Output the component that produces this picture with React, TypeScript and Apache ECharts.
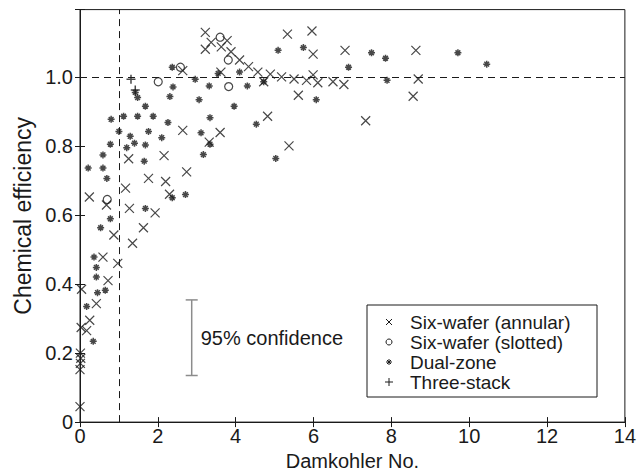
import React, { useEffect, useRef } from "react";
import * as echarts from "echarts";

// ---- data ----
const sixWaferAnnular: number[][] = [
  [3.22, 1.129], [3.37, 1.1], [3.78, 1.105], [3.22, 1.08], [3.63, 1.087], [3.88, 1.073],
  [4.1, 1.049], [4.33, 1.03], [3.62, 1.014], [2.64, 1.018], [4.57, 1.014], [4.72, 0.986],
  [4.89, 1.008], [5.18, 1.0], [5.5, 0.994], [5.82, 0.99], [5.99, 1.006], [6.11, 0.983],
  [6.5, 0.986], [6.78, 0.978], [5.33, 1.124], [5.96, 1.133], [5.99, 1.066], [6.81, 1.077],
  [8.63, 1.077], [8.69, 0.994], [5.61, 0.947], [8.56, 0.944], [4.82, 0.886], [7.34, 0.873],
  [5.37, 0.8], [2.64, 0.845], [3.6, 0.839], [3.32, 0.811], [1.25, 0.763], [2.16, 0.772],
  [2.74, 0.725], [1.76, 0.706], [2.2, 0.697], [1.17, 0.678], [2.3, 0.66], [0.24, 0.652],
  [0.68, 0.629], [1.27, 0.619], [1.93, 0.606], [1.63, 0.563], [0.87, 0.542], [1.35, 0.518],
  [0.59, 0.478], [0.97, 0.46], [0.72, 0.41], [0.04, 0.385], [0.42, 0.343], [0.25, 0.295],
  [0.03, 0.274], [0.17, 0.265], [0.01, 0.2], [0.02, 0.185], [0.01, 0.17], [0.0, 0.152],
  [0.0, 0.045],
];
const sixWaferSlotted: number[][] = [
  [3.6, 1.115], [3.81, 1.049], [2.58, 1.028], [2.01, 0.986], [3.82, 0.972], [0.7, 0.645],
];
const dualZone: number[][] = [
  [2.37, 1.028], [2.96, 0.993], [3.32, 0.974], [4.3, 0.974], [1.48, 0.94], [2.39, 0.971],
  [2.31, 0.943], [3.06, 0.934], [1.68, 0.915], [3.96, 0.915], [0.8, 0.877], [1.12, 0.886],
  [1.48, 0.886], [1.88, 0.886], [3.34, 0.882], [4.53, 0.863], [2.26, 0.868], [1.0, 0.842],
  [1.29, 0.828], [1.76, 0.842], [3.11, 0.838], [3.34, 0.805], [2.1, 0.824], [0.78, 0.805],
  [1.2, 0.795], [1.4, 0.808], [1.68, 0.803], [0.59, 0.774], [3.17, 0.775], [0.21, 0.736],
  [0.59, 0.736], [1.65, 0.756], [0.69, 0.706], [1.68, 0.619], [0.78, 0.589], [0.53, 0.563],
  [0.36, 0.478], [0.42, 0.448], [0.42, 0.42], [2.37, 0.65], [2.71, 0.659], [0.45, 0.375],
  [0.65, 0.382], [0.17, 0.335], [0.34, 0.234], [3.55, 1.01], [4.1, 1.014], [5.09, 1.077],
  [5.74, 1.085], [6.9, 1.028], [7.49, 1.07], [7.85, 1.054], [9.71, 1.07], [10.45, 1.037],
  [7.89, 0.99], [6.07, 0.934], [5.03, 0.764], [4.72, 0.986], [1.42, 0.955],
];
const threeStack: number[][] = [
  [1.31, 0.993], [1.42, 0.962],
];
// confidence bar: [x, low, high]
const confidenceBar: number[][] = [[2.87, 0.135, 0.354]];
const confidenceLabel = "95% confidence";
const xTicks = { min: 0, max: 14, interval: 2 };
const yTicks = { min: 0, max: 1.195, interval: 0.2 };
const refLineX = 1;
const refLineY = 1.0;
const legendNames = [
  "Six-wafer (annular)",
  "Six-wafer (slotted)",
  "Dual-zone",
  "Three-stack",
];

const FONT = '"Liberation Sans", Arial, Helvetica, sans-serif';
const INK = "#1a1a1a";

const CROSS = "path://M0,0L10,10M10,0L0,10";
const STAR = "path://M5,0L5,10M0,5L10,5M1.6,1.6L8.4,8.4M8.4,1.6L1.6,8.4";
const PLUS = "path://M5,0L5,10M0,5L10,5";

export default function App() {
  const ref = useRef<HTMLDivElement>(null);
  useEffect(() => {
    if (!ref.current) return;
    const chart = echarts.init(ref.current, undefined, { renderer: "svg" });

    const markerStyle = (w: number) => ({
      color: "transparent",
      borderColor: INK,
      borderWidth: w,
    });

    // legend geometry
    const lgX = 367, lgY = 305, lgW = 230, lgH = 92;
    const rowY = [322, 342, 362, 382];
    const mk = 389;
    const ln = (x1: number, y1: number, x2: number, y2: number) => ({
      type: "line",
      shape: { x1, y1, x2, y2 },
      style: { stroke: INK, lineWidth: 1 },
    });
    const legendMarkers: any[] = [
      ln(mk - 3, rowY[0] - 3, mk + 3, rowY[0] + 3),
      ln(mk + 3, rowY[0] - 3, mk - 3, rowY[0] + 3),
      { type: "circle", shape: { cx: mk, cy: rowY[1], r: 3 }, style: { fill: "none", stroke: INK, lineWidth: 1 } },
      ln(mk, rowY[2] - 3, mk, rowY[2] + 3),
      ln(mk - 3, rowY[2], mk + 3, rowY[2]),
      ln(mk - 2, rowY[2] - 2, mk + 2, rowY[2] + 2),
      ln(mk + 2, rowY[2] - 2, mk - 2, rowY[2] + 2),
      ln(mk, rowY[3] - 4, mk, rowY[3] + 4),
      ln(mk - 4, rowY[3], mk + 4, rowY[3]),
    ];
    const legendTexts = legendNames.map((n, i) => ({
      type: "text",
      x: 410,
      y: rowY[i],
      style: {
        text: n,
        fill: INK,
        font: `19px ${FONT}`,
        verticalAlign: "middle",
      },
    }));

    const axisCommon = {
      axisLine: { show: true, lineStyle: { color: INK, width: 1 } },
      axisTick: { show: true, inside: true, length: 5, lineStyle: { color: INK } },
      splitLine: { show: false },
    };

    chart.setOption({
      animation: false,
      backgroundColor: "#fff",
      grid: {
        left: 80,
        right: 8,
        top: 9.6,
        bottom: 41,
        show: true,
        borderColor: INK,
        borderWidth: 1,
        backgroundColor: "transparent",
      },
      xAxis: [
        {
          type: "value",
          position: "bottom",
          ...xTicks,
          ...axisCommon,
          axisLabel: { color: INK, fontSize: 20, fontFamily: FONT, margin: 4 },
          name: "Damkohler No.",
          nameLocation: "middle",
          nameGap: 22,
          nameTextStyle: { color: INK, fontSize: 20, fontFamily: FONT },
        },
        {
          type: "value",
          position: "top",
          ...xTicks,
          ...axisCommon,
          axisLabel: { show: false },
        },
      ],
      yAxis: [
        {
          type: "value",
          position: "left",
          ...yTicks,
          ...axisCommon,
          axisLabel: {
            color: INK,
            fontSize: 20,
            fontFamily: FONT,
            margin: 7,
            formatter: (v: number) => (v > 1.05 ? "" : v === 0 ? "0" : v.toFixed(1)),
          },
          name: "Chemical efficiency",
          nameLocation: "middle",
          nameGap: 44,
          nameTextStyle: { color: INK, fontSize: 23, fontFamily: FONT },
        },
        {
          type: "value",
          position: "right",
          ...yTicks,
          ...axisCommon,
          axisLabel: { show: false },
        },
      ],
      series: [
        {
          name: legendNames[0],
          type: "scatter",
          data: sixWaferAnnular,
          symbol: CROSS,
          symbolSize: 9,
          itemStyle: markerStyle(1.2),
          markLine: {
            silent: true,
            symbol: ["none", "none"],
            label: { show: false },
            lineStyle: { color: INK, width: 1, type: [7, 5] },
            data: [{ xAxis: refLineX }, { yAxis: refLineY }],
          },
          z: 3,
        },
        {
          name: legendNames[1],
          type: "scatter",
          data: sixWaferSlotted,
          symbol: "circle",
          symbolSize: 8,
          itemStyle: markerStyle(1.2),
          z: 3,
        },
        {
          name: legendNames[2],
          type: "scatter",
          data: dualZone,
          symbol: STAR,
          symbolSize: 7,
          itemStyle: markerStyle(1.5),
          z: 3,
        },
        {
          name: legendNames[3],
          type: "scatter",
          data: threeStack,
          symbol: PLUS,
          symbolSize: 9,
          itemStyle: markerStyle(1.5),
          z: 3,
        },
        {
          type: "custom",
          data: confidenceBar,
          silent: true,
          renderItem: (_p: any, api: any) => {
            const top = api.coord([api.value(0), api.value(2)]);
            const bot = api.coord([api.value(0), api.value(1)]);
            const c = "#8c8c8c";
            return {
              type: "group",
              children: [
                { type: "line", shape: { x1: top[0], y1: top[1], x2: bot[0], y2: bot[1] }, style: { stroke: c, lineWidth: 1.5 } },
                { type: "line", shape: { x1: top[0] - 6, y1: top[1], x2: top[0] + 6, y2: top[1] }, style: { stroke: c, lineWidth: 1.5 } },
                { type: "line", shape: { x1: bot[0] - 6, y1: bot[1], x2: bot[0] + 6, y2: bot[1] }, style: { stroke: c, lineWidth: 1.5 } },
                {
                  type: "text",
                  x: top[0] + 9,
                  y: (top[1] + bot[1]) / 2,
                  style: {
                    text: confidenceLabel,
                    fill: INK,
                    font: `20px ${FONT}`,
                    verticalAlign: "middle",
                    align: "left",
                  },
                },
              ],
            };
          },
        },
      ],
      graphic: [
        {
          type: "rect",
          shape: { x: lgX, y: lgY, width: lgW, height: lgH },
          style: { fill: "#fff", stroke: INK, lineWidth: 1 },
          z: 10,
        },
        ...legendMarkers.map((m) => ({ ...m, z: 11 })),
        ...legendTexts.map((t) => ({ ...t, z: 11 })),
      ],
    });
    return () => chart.dispose();
  }, []);
  return <div ref={ref} style={{ width: 639, height: 476, position: "absolute", left: 0, top: 0 }} />;
}
